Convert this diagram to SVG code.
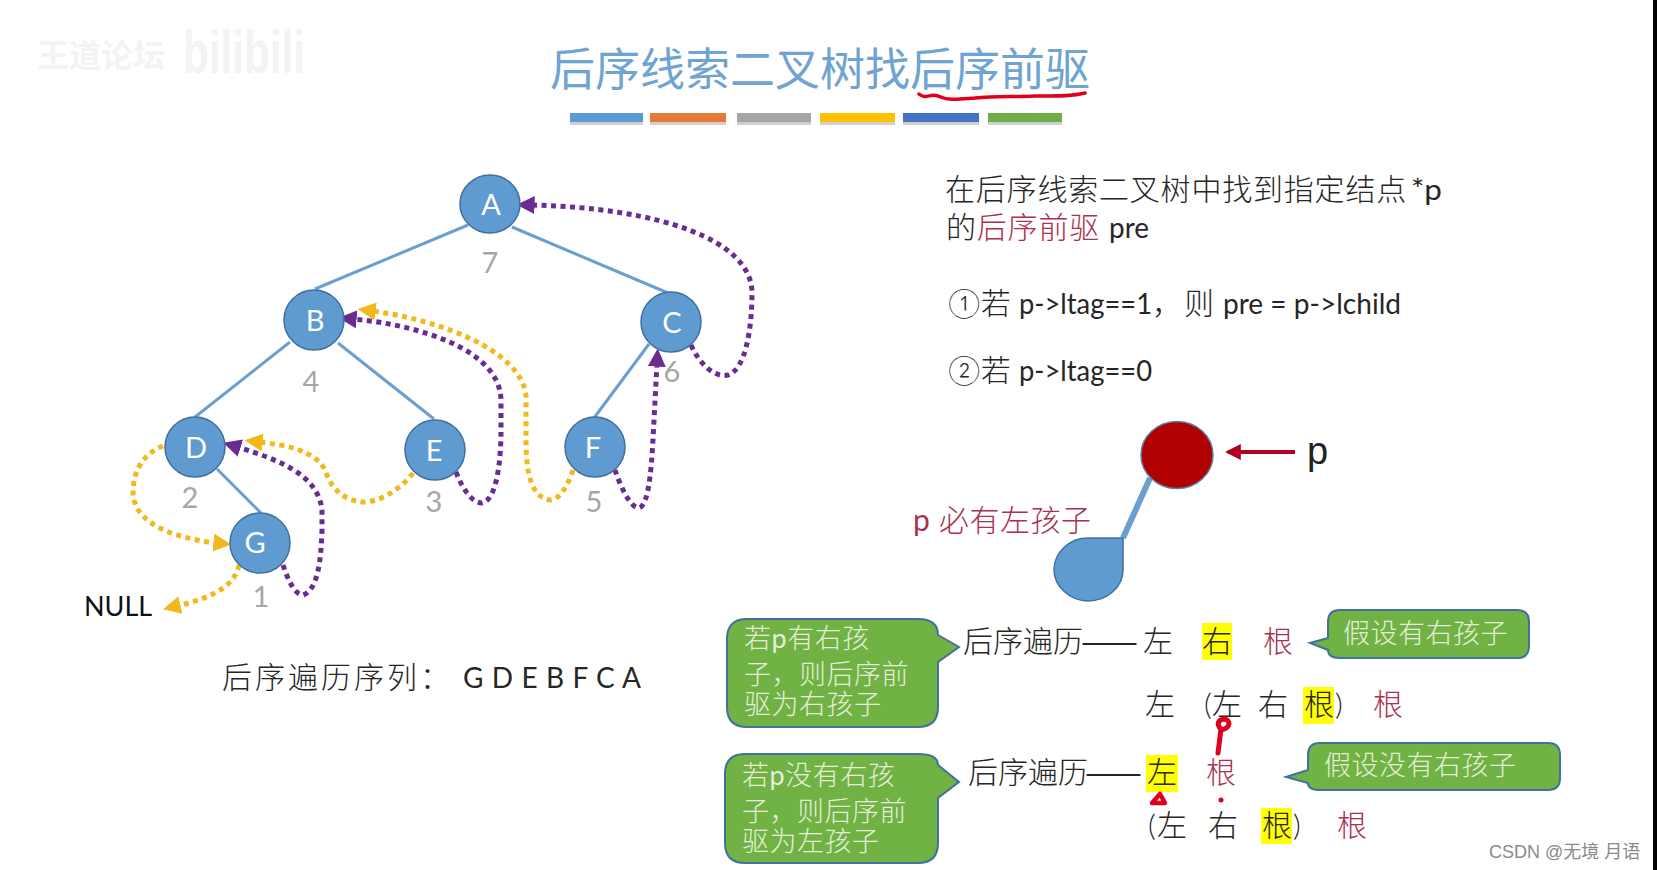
<svg xmlns="http://www.w3.org/2000/svg" width="1657" height="870" viewBox="0 0 1657 870">
<style>
text{font-family:Lato,"Noto Sans CJK SC","Noto Sans",sans-serif}
.t{font-size:30px;fill:#262626;font-weight:300}
.l{font-size:28px;fill:#262626}
.r{font-size:30px;fill:#a8324f;font-weight:300}
.c{font-size:27px;fill:#e6eedb;font-weight:300;letter-spacing:.5px}
.d{font-family:"Noto Sans CJK SC",sans-serif;font-size:34px;fill:#262626}
.b{font-weight:400}
.n{font-size:29px;fill:#fff;text-anchor:middle}
.g{font-size:29px;fill:#a6a6a6;text-anchor:middle}
.node{fill:#5f9bd1;stroke:#3f6f9c;stroke-width:1.5}
.edge{stroke:#6a9fcf;stroke-width:3;fill:none}
.pu{stroke:#6a2c91;stroke-width:5;stroke-dasharray:5 4.500;fill:none;marker-end:url(#ap)}
.ye{stroke:#f2b91e;stroke-width:5;stroke-dasharray:5 4.500;fill:none;marker-end:url(#ay)}
.call{fill:#70b244;stroke:#41719c;stroke-width:2}
.hl{fill:#ffff00}
.ink{fill:none;stroke:#e0001b;stroke-linecap:round;stroke-linejoin:round}
</style>
<defs>
<marker id="ap" viewBox="0 0 10 10" refX="2" refY="5" markerWidth="18" markerHeight="18" markerUnits="userSpaceOnUse" orient="auto"><path d="M0,0L10,5L0,10z" fill="#6a2c91"/></marker>
<marker id="ay" viewBox="0 0 10 10" refX="2" refY="5" markerWidth="18" markerHeight="18" markerUnits="userSpaceOnUse" orient="auto"><path d="M0,0L10,5L0,10z" fill="#f2b91e"/></marker>
<marker id="ar" viewBox="0 0 10 10" refX="8" refY="5" markerWidth="16" markerHeight="16" markerUnits="userSpaceOnUse" orient="auto"><path d="M0,0L10,5L0,10z" fill="#b00020"/></marker>
</defs>
<rect width="1657" height="870" fill="#fff"/>
<rect x="1653" y="0" width="4" height="870" fill="#000"/>
<g id="watermark">
<text x="37" y="67" font-size="32" font-weight="700" fill="#f3f3f3">王道论坛</text>
<text x="183" y="73" style="font-family:'Liberation Sans',sans-serif" font-size="62" font-weight="700" textLength="122" lengthAdjust="spacingAndGlyphs" fill="#f3f3f3">bilibili</text>
</g>
<g id="title">
<text x="550" y="86" font-size="45" fill="#6fa3d2">后序线索二叉树找后序前驱</text>
<path class="ink" stroke-width="3.500" d="M919,94C926,100 930,93 938,96C948,101 960,99 975,98C995,96 1010,97 1035,96C1055,96 1070,97 1085,93"/>
<rect x="570" y="122" width="73" height="3" fill="#d0d0d0"/><rect x="650" y="122" width="76" height="3" fill="#d0d0d0"/><rect x="737" y="122" width="74" height="3" fill="#d0d0d0"/><rect x="820" y="122" width="75" height="3" fill="#d0d0d0"/><rect x="903" y="122" width="76" height="3" fill="#d0d0d0"/><rect x="988" y="122" width="74" height="3" fill="#d0d0d0"/>
<rect x="570" y="113" width="73" height="9" fill="#5b9bd5"/><rect x="650" y="113" width="76" height="9" fill="#e6793a"/><rect x="737" y="113" width="74" height="9" fill="#a5a5a5"/><rect x="820" y="113" width="75" height="9" fill="#ffc000"/><rect x="903" y="113" width="76" height="9" fill="#4472c4"/><rect x="988" y="113" width="74" height="9" fill="#70ad47"/>
</g>
<g id="connectors">
<path class="edge" d="M468,225L315,289M512,227L668,293M290,342L195,417M338,343L434,419M649,344L594,418M217,469L261,513"/>
<path class="pu" d="M691,345C700,365 715,378 728,375C745,370 752,330 752,293C752,240 660,208 531,205"/>
<path class="pu" d="M456,472C462,488 472,503 482,503C497,500 501,460 501,430L501,400C500,350 420,325 353,319"/>
<path class="ye" d="M573,470C568,485 560,500 550,500C530,497 526,470 526,440L526,395C520,350 440,320 372,311"/>
<path class="pu" d="M615,470C620,485 630,508 639,508C650,505 652,460 654,420L657,363"/>
<path class="pu" d="M283,565C288,580 295,595 303,595C318,590 321,560 322,530L322,510C318,475 280,460 237,447"/>
<path class="ye" d="M413,473C400,490 380,502 363,502C340,500 330,485 325,470C315,450 285,445 259,442"/>
<path class="ye" d="M163,446C140,455 133,475 133,493C135,530 190,540 217,543"/>
<path class="ye" d="M239,565C235,585 215,597 177,606"/>
</g>
<g id="node-A"><ellipse class="node" cx="490" cy="204" rx="30" ry="29"/><text class="n" x="491" y="215">A</text></g>
<g id="node-B"><ellipse class="node" cx="314" cy="320" rx="30" ry="30"/><text class="n" x="315" y="331">B</text></g>
<g id="node-C"><ellipse class="node" cx="671" cy="322" rx="30" ry="30"/><text class="n" x="672" y="333">C</text></g>
<g id="node-D"><ellipse class="node" cx="195" cy="447" rx="30" ry="30"/><text class="n" x="196" y="458">D</text></g>
<g id="node-E"><ellipse class="node" cx="435" cy="450" rx="30" ry="30"/><text class="n" x="434" y="461">E</text></g>
<g id="node-F"><ellipse class="node" cx="595" cy="447" rx="30" ry="30"/><text class="n" x="593" y="458">F</text></g>
<g id="node-G"><ellipse class="node" cx="260" cy="543" rx="30" ry="30"/><text class="n" x="255" y="553">G</text></g>
<g id="order">
<text class="g" x="490" y="273">7</text><text class="g" x="311" y="392">4</text><text class="g" x="672" y="382">6</text><text class="g" x="190" y="508">2</text><text class="g" x="434" y="512">3</text><text class="g" x="594" y="512">5</text><text class="g" x="261" y="607">1</text>
</g>
<text x="84" y="616" font-size="27" fill="#111">NULL</text>
<text class="t" x="222" y="688" style="letter-spacing:3px">后序遍历序列：</text>
<text class="l" x="463" y="688" font-size="30" textLength="178">G D E B F C A</text>
<g id="rule-text">
<text class="t" x="945" y="200" style="letter-spacing:.8px">在后序线索二叉树中找到指定结点</text>
<text class="l" x="1411" y="200" textLength="31" lengthAdjust="spacingAndGlyphs">*p</text>
<text class="t" x="946" y="238" style="letter-spacing:.8px">的<tspan fill="#a8324f">后序前驱</tspan></text>
<text class="l" x="1109" y="238" textLength="40" lengthAdjust="spacingAndGlyphs">pre</text>
<text class="t" x="948" y="314" font-size="30">①若</text>
<text class="l" x="1019" y="314" textLength="133" lengthAdjust="spacingAndGlyphs">p-&gt;ltag==1</text>
<text class="t" x="1152" y="314">，</text><text class="t" x="1184" y="314">则</text>
<text class="l" x="1223" y="314" textLength="178" lengthAdjust="spacingAndGlyphs">pre = p-&gt;lchild</text>
<text class="t" x="948" y="381">②若</text>
<text class="l" x="1019" y="381" textLength="133" lengthAdjust="spacingAndGlyphs">p-&gt;ltag==0</text>
</g>
<g id="node-p"><path d="M1150,478L1123,538" stroke="#6a9fcf" stroke-width="6" fill="none"/><ellipse cx="1177" cy="455" rx="36" ry="33.500" fill="#b00000" stroke="#5b7fa5" stroke-width="1.500"/><path d="M1295,452L1228,452" stroke="#b00020" stroke-width="4" fill="none" marker-end="url(#ar)"/><text x="1307" y="464" style="font-family:'Liberation Sans',sans-serif" font-size="38" fill="#222">p</text></g>
<g id="node-child"><path class="node" d="M1123,538L1123,570C1123,588 1106,601 1088,601C1070,601 1054,586 1054,570C1054,552 1070,538 1088,538Z"/></g>
<text class="r" x="913" y="531" font-size="29" style="letter-spacing:.5px"><tspan class="b">p</tspan> 必有左孩子</text>
<g id="callout-1"><path class="call" d="M747,619H918Q938,619 938,635L959,647L938,662V707Q938,727 918,727H747Q727,727 727,707V639Q727,619 747,619Z"/>
<text class="c" x="744" y="648">若<tspan class="b">p</tspan>有右孩</text><text class="c" x="744" y="684">子，则后序前</text><text class="c" x="744" y="714">驱为右孩子</text></g>
<g id="callout-2"><path class="call" d="M745,754H918Q938,754 938,765L959,782L938,798V843Q938,863 918,863H745Q725,863 725,843V774Q725,754 745,754Z"/>
<text class="c" x="742" y="785">若<tspan class="b">p</tspan>没有右孩</text><text class="c" x="742" y="821">子，则后序前</text><text class="c" x="742" y="851">驱为左孩子</text></g>
<g id="callout-3"><path class="call" d="M1340,610H1517Q1529,610 1529,622V646Q1529,658 1517,658H1340Q1328,658 1328,650L1310,643L1328,638V622Q1328,610 1340,610Z"/>
<text class="c" x="1343" y="643">假设有右孩子</text></g>
<g id="callout-4"><path class="call" d="M1320,743H1548Q1560,743 1560,755V778Q1560,790 1548,790H1320Q1308,790 1308,783L1286,777L1308,770V755Q1308,743 1320,743Z"/>
<text class="c" x="1324" y="775">假设没有右孩子</text></g>
<g id="traversal">
<rect class="hl" x="1202" y="623" width="30" height="37"/><rect class="hl" x="1303" y="687" width="31" height="37"/><rect class="hl" x="1146" y="755" width="32" height="37"/><rect class="hl" x="1261" y="808" width="31" height="36"/>
<text class="t" x="963" y="652">后序遍历</text><text class="d" x="1081" y="654">——</text><text class="t" x="1143" y="652">左</text><text class="t" x="1202" y="652">右</text><text class="r" x="1263" y="652">根</text>
<text class="t" x="1145" y="715">左</text><text class="t" x="1204" y="715">(</text><text class="t" x="1212" y="715">左</text><text class="t" x="1258" y="715">右</text><text class="t" x="1304" y="715">根</text><text class="t" x="1335" y="715">)</text><text class="r" x="1373" y="715">根</text>
<text class="t" x="968" y="783">后序遍历</text><text class="d" x="1085" y="785">——</text><text class="t" x="1147" y="783">左</text><text class="r" x="1206" y="783">根</text>
<text class="t" x="1148" y="836">(</text><text class="t" x="1157" y="836">左</text><text class="t" x="1208" y="836">右</text><text class="t" x="1262" y="836">根</text><text class="t" x="1293" y="836">)</text><text class="r" x="1337" y="836">根</text>
</g>
<g id="ink">
<path class="ink" stroke-width="5" d="M1218,753L1221,729C1216,724 1218,720 1224,719C1231,720 1231,727 1222,730"/>
<path class="ink" stroke-width="4.500" d="M1152,803L1160,794L1165,803Z"/>
<circle cx="1221" cy="800" r="2.500" fill="#e0001b"/>
</g>
<text x="1489" y="858" style="font-family:'Liberation Sans','Noto Sans CJK SC',sans-serif" font-size="18" fill="#8a8a8a">CSDN @无境 月语</text>
</svg>
